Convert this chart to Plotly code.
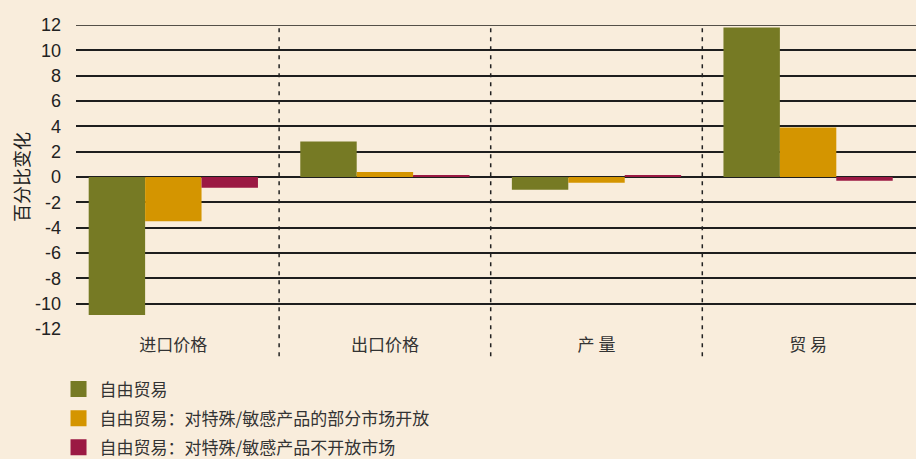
import plotly.graph_objects as go

categories = ["进口价格", "出口价格", "产 量", "贸 易"]
series_names = [
    "自由贸易",
    "自由贸易：对特殊/敏感产品的部分市场开放",
    "自由贸易：对特殊/敏感产品不开放市场",
]
free_trade = [-10.9, 2.8, -1.0, 11.8]
partial_open = [-3.5, 0.4, -0.45, 3.9]
not_open = [-0.85, 0.15, 0.08, -0.3]
y_ticks = [12, 10, 8, 6, 4, 2, 0, -2, -4, -6, -8, -10, -12]

colors = ["#767A24", "#D49500", "#9B1943"]
bg = "#F9EDDC"
cjk = "Noto Sans CJK SC"

x_idx = list(range(len(categories)))
fig = go.Figure()
for name, vals, col in zip(series_names, [free_trade, partial_open, not_open], colors):
    fig.add_trace(go.Bar(x=x_idx, y=vals, name=name, marker=dict(color=col, line=dict(width=0)),
                         showlegend=False))
    fig.add_trace(go.Scatter(x=[None], y=[None], mode="markers", name=name,
                             marker=dict(symbol="square", size=16, color=col, line=dict(width=0)),
                             legendgroup=name))

# dashed separators between categories
for b in [0.5, 1.5, 2.5]:
    fig.add_shape(type="line", xref="x", yref="paper", x0=b, x1=b, y0=-0.09, y1=0.99,
                  line=dict(color="#222222", width=1.5, dash="4px,5px"), layer="above")

# top line at 12
fig.add_shape(type="line", xref="paper", yref="y", x0=0, x1=1, y0=12, y1=12,
              line=dict(color="#555048", width=2), layer="below")

fig.update_layout(
    width=916, height=459,
    margin=dict(l=76, r=0, t=25, b=130, autoexpand=False),
    paper_bgcolor=bg, plot_bgcolor=bg,
    barmode="group", bargap=0.2, bargroupgap=0,
    font=dict(family="Liberation Sans, Arial", color="#222222"),
    xaxis=dict(
        tickmode="array", tickvals=x_idx, ticktext=categories,
        range=[-0.46, 3.51], showgrid=False, zeroline=False, showline=False, automargin=False,
        tickfont=dict(family=cjk, size=17, color="#333333"), ticks="", ticklabelstandoff=4,
    ),
    yaxis=dict(
        range=[-12, 12], tickvals=y_ticks, ticktext=[str(v) for v in y_ticks],
        showgrid=True, gridcolor="#1e1e1e", gridwidth=1.5, automargin=False,
        zeroline=True, zerolinecolor="#1e1e1e", zerolinewidth=1.5,
        showline=False, ticks="", ticklabelstandoff=14,
        tickfont=dict(family="Liberation Sans, Arial", size=18, color="#222222"),
        title=dict(text="百分比变化", font=dict(family=cjk, size=18, color="#222222"), standoff=0),
    ),
    legend=dict(
        orientation="v", x=-0.022, xanchor="left", y=-0.14, yanchor="top",
        bgcolor="rgba(0,0,0,0)", font=dict(family=cjk, size=17, color="#333333"),
        tracegroupgap=4, itemwidth=32,
    ),
)

fig.write_html("out.html", config={"displayModeBar": False},
               post_script="document.body.style.margin='0';document.body.style.padding='0';")
